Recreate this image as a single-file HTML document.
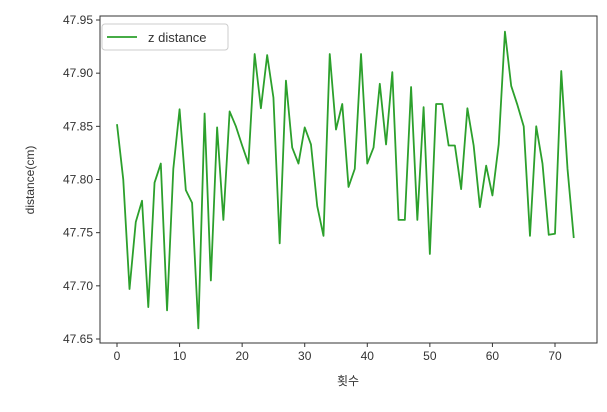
<!DOCTYPE html>
<html><head><meta charset="utf-8"><style>
body{margin:0;background:#fff;width:607px;height:407px;overflow:hidden}
text{font-family:"Liberation Sans","Noto Sans CJK KR",sans-serif;fill:#333;font-size:12px}
</style></head><body>
<svg id="chart" width="607" height="407"></svg>
<script>
const xTicks=[0,10,20,30,40,50,60,70];
const yTicks=[47.65,47.70,47.75,47.80,47.85,47.90,47.95];
const zDistance=[47.852,47.80,47.697,47.76,47.78,47.68,47.797,47.815,47.677,47.81,47.866,47.79,47.778,47.66,47.862,47.705,47.849,47.762,47.864,47.85,47.832,47.815,47.918,47.867,47.917,47.877,47.74,47.893,47.83,47.815,47.849,47.833,47.775,47.747,47.918,47.847,47.871,47.793,47.81,47.918,47.815,47.83,47.89,47.833,47.901,47.762,47.762,47.887,47.762,47.868,47.73,47.871,47.871,47.832,47.832,47.791,47.867,47.832,47.774,47.813,47.785,47.833,47.939,47.888,47.87,47.85,47.747,47.85,47.815,47.748,47.749,47.902,47.81,47.745];
const NS="http://www.w3.org/2000/svg";
const svg=document.getElementById('chart');
const L=100,R=597,T=16,B=343;
const xs=i=>117+(555-117)*i/70;
const ys=v=>339-(v-47.65)/0.30*(339-20);
function mk(tag,attrs,parent){const e=document.createElementNS(NS,tag);for(const k in attrs)e.setAttribute(k,attrs[k]);(parent||svg).appendChild(e);return e;}
const frame=mk('rect',{x:L,y:T,width:R-L,height:B-T,fill:'none',stroke:'#333','stroke-width':1});


xTicks.forEach(t=>{
  const l=mk('line',{x1:xs(t),x2:xs(t),y1:B,y2:B+4,stroke:'#333'});
  
  
  const tx=mk('text',{x:xs(t),y:B+17,'text-anchor':'middle'});tx.textContent=t;
  
  
});
yTicks.forEach(t=>{
  const l=mk('line',{x1:L-4,x2:L,y1:ys(t),y2:ys(t),stroke:'#333'});
  
  
  const tx=mk('text',{x:L-7,y:ys(t)+4,'text-anchor':'end'});tx.textContent=t.toFixed(2);
  
  
});
const pl=mk('polyline',{points:zDistance.map((v,i)=>xs(i)+','+ys(v)).join(' '),fill:'none',stroke:'#2ca02c','stroke-width':1.8,'stroke-linejoin':'round'});


const xl=mk('text',{x:348,y:385,'text-anchor':'middle'});xl.textContent='횟수';


const yl=mk('text',{x:0,y:0,'text-anchor':'middle',transform:'translate(34,180) rotate(-90)'});yl.textContent='distance(cm)';


const lg=mk('g',{});


mk('rect',{x:102,y:24,width:126,height:26,rx:3,fill:'#fff',stroke:'#ccc'},lg);
mk('line',{x1:107,x2:137,y1:37,y2:37,stroke:'#2ca02c','stroke-width':1.8},lg);
const lt=mk('text',{x:148,y:42},lg);lt.textContent='z distance';lt.style.fontSize='13px';
</script>
</body></html>
